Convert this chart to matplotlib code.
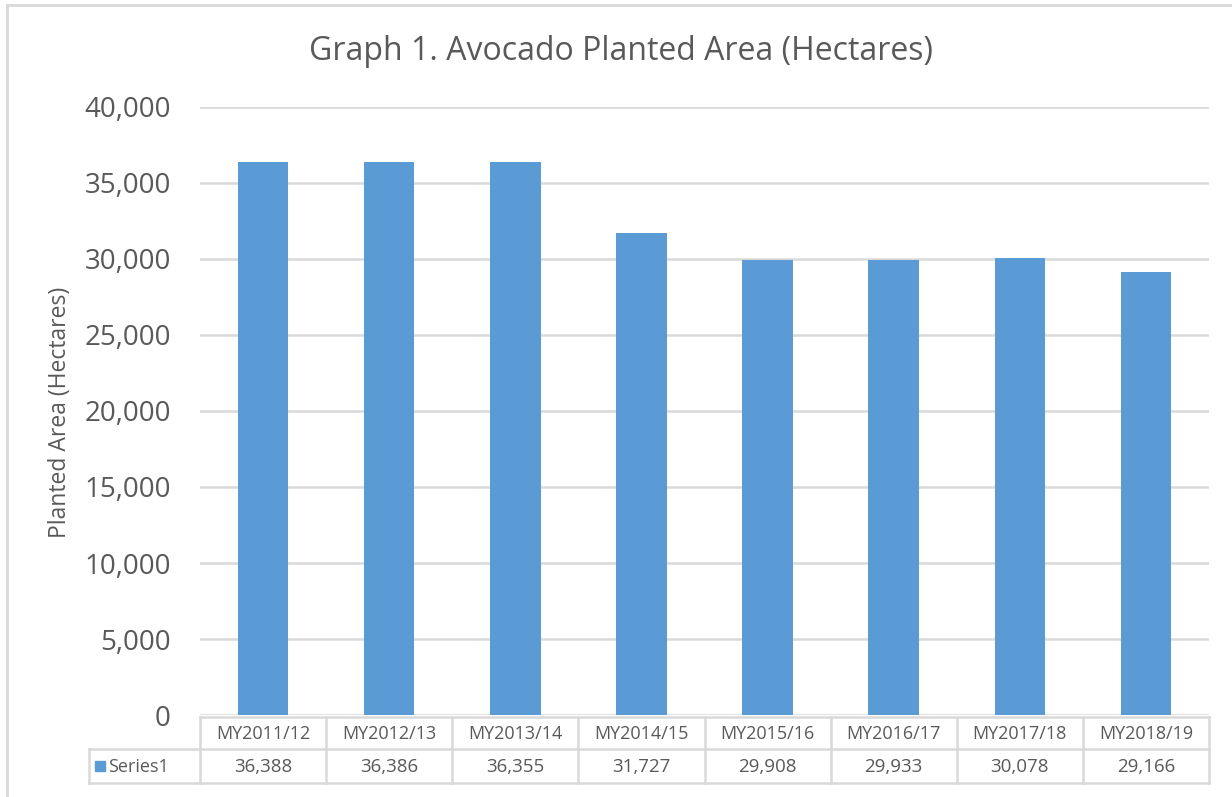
import matplotlib.pyplot as plt
from matplotlib.lines import Line2D
from matplotlib.patches import Rectangle

plt.rcParams['font.family'] = ['Open Sans', 'DejaVu Sans']

# data
seasons = ["MY2011/12", "MY2012/13", "MY2013/14", "MY2014/15",
           "MY2015/16", "MY2016/17", "MY2017/18", "MY2018/19"]
area = [36388, 36386, 36355, 31727, 29908, 29933, 30078, 29166]
yticks = [0, 5000, 10000, 15000, 20000, 25000, 30000, 35000, 40000]

W, H = 1232, 797
bar_col = "#5b9bd5"
txt_col = "#595959"
grid_col = "#d9d9d9"

fig = plt.figure(figsize=(W / 100, H / 100), dpi=100)

def px(x, y):
    # pixel coords (top-left origin) -> figure fraction
    return x / W, 1 - y / H

# outer chart frame (light gray, running off right/bottom edge)
fig.add_artist(Line2D([7 / W, 1], [1 - 5 / H] * 2, color=grid_col, lw=2))
fig.add_artist(Line2D([7 / W] * 2, [0, 1 - 5 / H], color=grid_col, lw=2))

left, right, top, bottom = 200, 1209, 107, 715
ax = fig.add_axes([left / W, 1 - bottom / H, (right - left) / W, (bottom - top) / H])

x = list(range(len(seasons)))
ax.bar(x, area, width=0.4, color=bar_col, zorder=3)
ax.set_xlim(-0.5, len(seasons) - 0.5)
ax.set_ylim(0, 40000)
ax.set_yticks(yticks)
ax.set_yticklabels([f"{v:,}" for v in yticks])
ax.tick_params(axis='y', length=0, pad=21, labelsize=20, labelcolor=txt_col)
ax.set_xticks([])
ax.grid(axis='y', color=grid_col, lw=1.8, zorder=0)
for s in ax.spines.values():
    s.set_visible(False)

fig.text(*px(621, 51), "Graph 1. Avocado Planted Area (Hectares)",
         ha='center', va='center', fontsize=23, color=txt_col)
fig.text(*px(60, 412), "Planted Area (Hectares)", rotation=90,
         ha='center', va='center', fontsize=16.5, color=txt_col)

# data table under the axis
col_w = (right - left) / len(seasons)
r0, r1, r2 = 717, 749, 783
lk = dict(color=grid_col, lw=1.8)
fig.add_artist(Line2D([px(left, 0)[0], px(right, 0)[0]], [px(0, r0)[1]] * 2, **lk))
fig.add_artist(Line2D([px(89, 0)[0], px(right, 0)[0]], [px(0, r1)[1]] * 2, **lk))
fig.add_artist(Line2D([px(89, 0)[0], px(right, 0)[0]], [px(0, r2)[1]] * 2, **lk))
fig.add_artist(Line2D([px(89, 0)[0]] * 2, [px(0, r1)[1], px(0, r2)[1]], **lk))
for k in range(len(seasons) + 1):
    xx = px(left + k * col_w, 0)[0]
    fig.add_artist(Line2D([xx, xx], [px(0, r0)[1], px(0, r2)[1]], **lk))

for i, (s, v) in enumerate(zip(seasons, area)):
    cx = left + (i + 0.5) * col_w
    fig.text(*px(cx, (r0 + r1) / 2 + 1), s, ha='center', va='center',
             fontsize=13, color=txt_col)
    fig.text(*px(cx, (r1 + r2) / 2 + 1), f"{v:,}", ha='center', va='center',
             fontsize=13.5, color=txt_col)

# legend key in the table
sx, sy = px(95, 771)
fig.add_artist(Rectangle((sx, sy), 10 / W, 10 / H, color=bar_col))
fig.text(*px(108, (r1 + r2) / 2 + 1), "Series1", ha='left', va='center',
         fontsize=13, color=txt_col)

fig.savefig("out.png", dpi=100)
